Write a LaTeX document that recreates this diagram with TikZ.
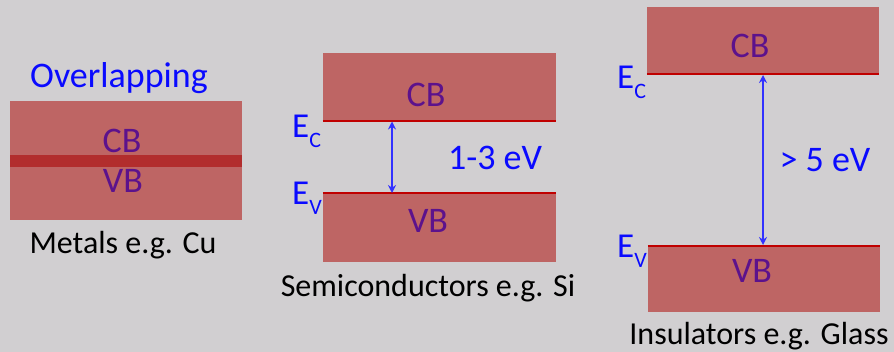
\documentclass[tikz,border=0pt]{standalone}
\usepackage{fontspec}
\setmainfont{Carlito}
\usetikzlibrary{arrows.meta}

\definecolor{bggray}{RGB}{209,207,209}
\definecolor{bandred}{RGB}{190,101,100}
\definecolor{overlapred}{RGB}{178,45,45}
\definecolor{edgered}{RGB}{192,0,0}
\definecolor{bandpurple}{RGB}{92,18,140}
\definecolor{gapblue}{RGB}{50,50,255}
\definecolor{labelblue}{RGB}{10,10,255}

\newcommand{\levelsub}[1]{\raisebox{-10pt}{\fontsize{22}{22}\selectfont #1}}

\begin{document}
\begin{tikzpicture}[
x=1pt, y=-1pt,
every node/.style={
inner sep=0pt,
font=\fontsize{36}{40}\selectfont
},
arrow/.style={{Stealth[length=8pt,width=8pt]}-{Stealth[length=8pt,width=8pt]}, gapblue, line width=2.4pt}
]

% =====================================================
% Styles
% =====================================================

\tikzstyle{band} =
[rectangle,
fill=bandred,
draw=none]

\tikzstyle{overlap} =
[rectangle,
fill=overlapred,
draw=none]

\tikzstyle{bandtext} =
[anchor=base,
text=bandpurple]

\tikzstyle{gaptext} =
[anchor=base,
text=labelblue]

\tikzstyle{level} =
[anchor=base west,
text=labelblue,
font=\fontsize{35}{38}\selectfont]

\tikzstyle{caption} =
[anchor=base,
text=black,
font=\fontsize{32}{36}\selectfont]

\tikzstyle{edge} =
[edgered, line width=2pt]

% background
\fill [bggray] (0,0) rectangle (894,352);
\useasboundingbox (0,0) rectangle (894,352);

% =====================================================
% Metals
% =====================================================

\node (metband) [band, minimum width=232pt, minimum height=119pt]
at (126,160.5) {};

\node (metoverlap) [overlap, minimum width=232pt, minimum height=12pt]
at (126,161) {};

\node (metcb) [bandtext] at (122,153) {CB};

\node (metvb) [bandtext] at (123,193) {VB};

\node (overlapping) [gaptext] at (119,88) {Overlapping};

\node (metname) [caption] at (123,254) {Metals e.g. Cu};

% =====================================================
% Semiconductors
% =====================================================

\node (semicbband) [band, minimum width=233pt, minimum height=68pt]
at (439.5,87) {};

\node (semivbband) [band, minimum width=233pt, minimum height=69pt]
at (439.5,227.5) {};

\node (semicb) [bandtext] at (426,107) {CB};

\node (semivb) [bandtext] at (428,233) {VB};

\node (semiec) [level] at (292,138) {E\levelsub{C}};

\node (semiev) [level] at (292,205) {E\levelsub{V}};

\node (semigap) [gaptext] at (495,170) {1-3 eV};

\node (seminame) [caption] at (428,297) {Semiconductors e.g. Si};

\coordinate (semitop) at (392,121.5);
\coordinate (semibot) at (392,193);

% =====================================================
% Insulators
% =====================================================

\node (inscbband) [band, minimum width=232pt, minimum height=67pt]
at (763,40.5) {};

\node (insvbband) [band, minimum width=232pt, minimum height=66pt]
at (764,279) {};

\node (inscb) [bandtext] at (750,58) {CB};

\node (insvb) [bandtext] at (752,283) {VB};

\node (insec) [level] at (617,89) {E\levelsub{C}};

\node (insev) [level] at (617,258) {E\levelsub{V}};

\node (insgap) [gaptext] at (825,172) {> 5 eV};

\node (insname) [caption] at (759,345) {Insulators e.g. Glass};

\coordinate (instop) at (763,75);
\coordinate (insbot) at (763,245);

% =====================================================
% Band edges and gaps
% =====================================================

\draw [edge] (semicbband.south west) -- (semicbband.south east);

\draw [edge] (semivbband.north west) -- (semivbband.north east);

\draw [edge] (inscbband.south west) -- (inscbband.south east);

\draw [edge] (insvbband.north west) -- (insvbband.north east);

\draw [arrow] (semitop) -- (semibot);

\draw [arrow] (instop) -- (insbot);

\end{tikzpicture}
\end{document}
